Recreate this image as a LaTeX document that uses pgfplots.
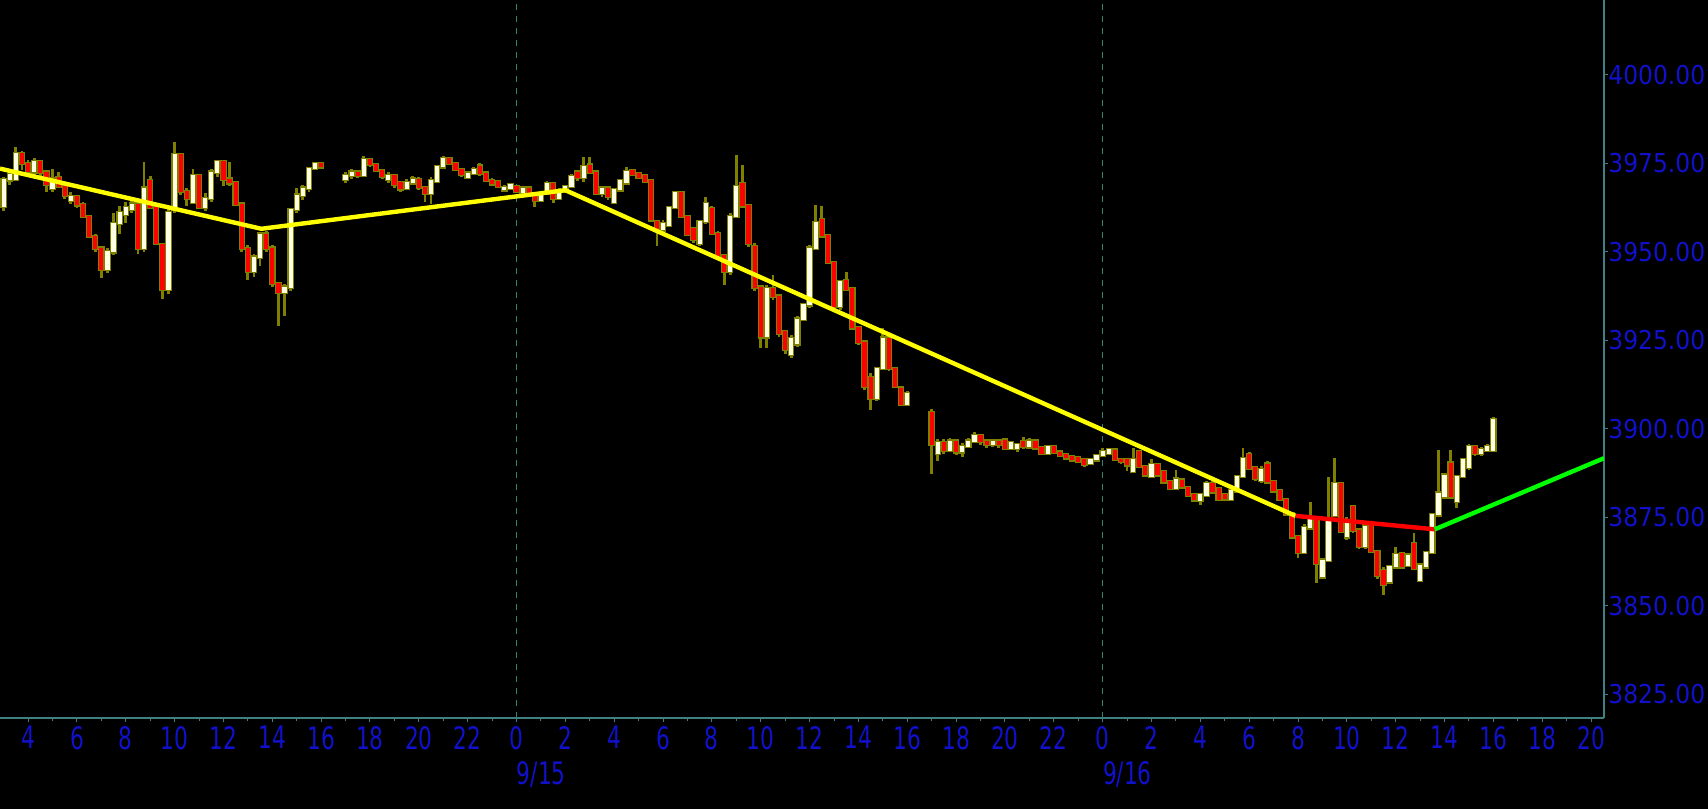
\documentclass[border=0pt]{standalone}
\usepackage{pgfplots}
\usepackage{pgfplotstable}
\pgfplotsset{compat=1.18}
\usepackage{fontspec}
\setmainfont{DejaVu Sans}
\newfontfamily\xfont{DejaVu Sans}[FakeStretch=0.7]
\newfontfamily\yfont{DejaVu Sans}[FakeStretch=0.9]
\definecolor{wick}{RGB}{128,128,0}
\definecolor{upbody}{RGB}{255,255,230}
\definecolor{downbody}{RGB}{255,0,0}
\definecolor{axcol}{RGB}{64,128,128}
\definecolor{dashcol}{RGB}{50,130,115}
\definecolor{lblue}{RGB}{16,16,205}
\definecolor{tyellow}{RGB}{255,255,0}
\definecolor{tred}{RGB}{255,0,0}
\definecolor{tgreen}{RGB}{0,255,0}

\pgfplotstableread{
t o h l c
-21.0 3962.8 3971 3961.5 3970.3
-20.75 3970.3 3973 3969 3971.7
-20.5 3970.5 3979.5 3970 3977.8
-20.25 3977.8 3978.5 3973 3975.0
-20.0 3975 3976 3972 3972.6
-19.75 3972.6 3976.5 3971.5 3975.5
-19.5 3975.5 3976 3971.5 3972.5
-19.25 3972.5 3973 3967 3969
-19.0 3968 3973.5 3967 3970.5
-18.75 3971 3972.5 3968 3968.5
-18.5 3968.5 3969 3965 3966
-18.25 3964.5 3967 3963.5 3965.5
-18.0 3965.5 3966 3962.5 3963.3
-17.75 3963.3 3964 3959.5 3960
-17.5 3960 3960.5 3954 3954.3
-17.25 3954.3 3955 3950 3951
-17.0 3951 3951.5 3942.5 3945
-16.75 3945 3951 3944 3950
-16.5 3950 3961 3949 3958
-16.25 3958 3963 3955 3961
-16.0 3960.5 3964 3958 3962.5
-15.75 3962 3964.5 3961 3963.5
-15.5 3963.5 3964 3949.5 3951
-15.25 3951 3975.5 3950 3968
-15.0 3970 3971.5 3962 3962.5
-14.75 3962.5 3963 3952 3952.5
-14.5 3952 3952.5 3936.8 3939.5
-14.25 3939.5 3962 3938 3961
-14.0 3962 3981 3961 3977.5
-13.75 3977.5 3978 3966 3967
-13.5 3967 3968 3963 3965
-13.25 3964 3973.5 3963.5 3971.5
-13.0 3971.5 3972 3962 3962.5
-12.75 3962.5 3966.5 3961.5 3965
-12.5 3965 3973.5 3964 3972.5
-12.25 3972.5 3976 3971 3975.5
-12.0 3975.5 3976 3968.5 3970.5
-11.75 3970.5 3975.5 3968.5 3969.5
-11.5 3969.5 3970 3963 3963.5
-11.25 3963.5 3964 3950 3951
-11.0 3951 3952 3942 3944.5
-10.75 3944.5 3949.5 3943 3948.5
-10.5 3948.5 3955.5 3946 3955
-10.25 3955 3956 3950 3951
-10.0 3951 3952 3940 3941
-9.75 3941 3941.5 3929 3938.5
-9.5 3938.5 3941 3932 3940
-9.25 3940 3962.5 3939 3962
-9.0 3962 3968 3961 3966
-8.75 3966 3969 3964.5 3968
-8.5 3968 3974 3967 3973.5
-8.25 3973.5 3975.5 3973 3975
-8.0 3975 3975.5 3973.5 3974
-7.0 3970.5 3972.5 3969.4 3971.5
-6.75 3971.5 3973.5 3970.5 3972.5
-6.5 3972.5 3973 3970.8 3971.5
-6.25 3971.5 3977 3971 3976
-6.0 3976 3976.5 3974 3974.6
-5.75 3974.6 3975 3972.5 3973
-5.5 3973 3973.5 3970.5 3971.3
-5.25 3970.5 3972.5 3969.5 3971.5
-5.0 3971.5 3972 3968 3969
-4.75 3969.5 3970 3967 3967.8
-4.5 3968 3970.5 3967.5 3969.5
-4.25 3969.5 3971.5 3969 3970.5
-4.0 3970.3 3971 3967.5 3968.2
-3.75 3968.2 3968.5 3964 3966.5
-3.5 3966.5 3971 3963.5 3970
-3.25 3970 3974.5 3969.5 3974
-3.0 3974 3977 3973.5 3976.4
-2.75 3976.4 3976.8 3974.5 3975
-2.5 3975 3975.5 3972.8 3973.2
-2.25 3973.2 3973.8 3971.2 3971.8
-2.0 3971 3972.8 3970.5 3972.2
-1.75 3972.2 3974 3971.8 3973.2
-1.5 3974.2 3975 3971.5 3972.2
-1.25 3972.2 3972.5 3969.8 3970.2
-1.0 3970.2 3970.8 3968.8 3969.2
-0.75 3969.8 3970.2 3968 3968.4
-0.5 3967.5 3968.8 3966.8 3968.2
-0.25 3968 3969.5 3967.5 3969
0.0 3968.5 3969 3966.5 3967
0.25 3966.8 3968.5 3966.3 3968
0.5 3968 3968.5 3966 3966.5
0.75 3966.5 3967 3962.8 3964.5
1.0 3964.6 3967 3964 3966.5
1.25 3966.5 3970 3966 3969.3
1.5 3969.3 3969.8 3963.7 3965
1.75 3965 3968 3964.5 3967.2
2.0 3967.2 3969 3966.5 3968.5
2.25 3968.4 3972 3968 3971.2
2.5 3972.5 3973 3970 3971
2.75 3971 3976.9 3969.8 3974
3.0 3974.5 3976.9 3972 3972.5
3.25 3972.5 3973 3966 3966.5
3.5 3966.5 3968.5 3965.5 3968
3.75 3968 3968.4 3964.6 3965.6
4.0 3964 3968 3963.5 3967.5
4.25 3967.5 3970.6 3967 3970
4.5 3969.5 3974 3969 3972.6
4.75 3973 3973.5 3971.3 3971.8
5.0 3972 3972.6 3970.5 3971
5.25 3971.5 3972 3969.5 3970
5.5 3970 3970.4 3958.5 3959
5.75 3958.5 3959 3951.5 3956.2
6.0 3956.2 3959 3955.5 3958
6.25 3957.5 3963 3957 3962.5
6.5 3962.5 3967.3 3962 3966.8
6.75 3966.8 3967 3959.5 3960
7.0 3960 3960.5 3954.5 3955
7.25 3956.5 3957 3952.5 3953.5
7.5 3952.5 3959 3951.5 3958.5
7.75 3958.5 3965.6 3958 3963.5
8.0 3962.3 3963 3954.8 3955.2
8.25 3955.2 3955.8 3948.3 3948.8
8.5 3949 3949.5 3940.6 3944.5
8.75 3944.5 3961 3943.5 3960
9.0 3960 3977.4 3959.5 3968.4
9.25 3969.3 3974.5 3962.5 3963
9.5 3963 3963.5 3951.5 3952.4
9.75 3951.5 3952.5 3939 3940
10.0 3940 3940.5 3922.7 3926
10.25 3926 3940.5 3922.7 3939.5
10.5 3939.5 3943.4 3936.5 3937.5
10.75 3937.5 3938 3926 3927
11.0 3927.5 3928 3921 3922.5
11.25 3921 3926.5 3920 3925.5
11.5 3924 3932 3923 3931
11.75 3931 3935.5 3930.5 3935
12.0 3935 3952 3934 3951
12.25 3951 3963.2 3950.5 3958.2
12.5 3959 3963 3954 3954.5
12.75 3954.5 3955 3946.5 3947
13.0 3947 3947.5 3934 3934.5
13.25 3934.5 3942 3933.5 3941.5
13.5 3941.8 3944.4 3938.8 3939.5
13.75 3939.5 3940 3928 3928.5
14.0 3928.5 3929 3923.8 3924.5
14.25 3924.5 3925 3911 3912
14.5 3914.5 3915.7 3905.2 3908.6
14.75 3908.6 3917.5 3907.8 3917
15.0 3917 3928.4 3916.5 3925.6
15.25 3925.6 3926 3916.2 3917
15.5 3917 3917.5 3911.5 3912
15.75 3911.5 3912 3906.3 3907
16.0 3907 3910.6 3906.3 3910
17.0 3904.5 3905.5 3887.2 3895.5
17.25 3893 3897 3891 3896
17.5 3896 3897 3893 3894
17.75 3894 3897.5 3893.5 3896.5
18.0 3896.5 3897 3892.5 3893.5
18.25 3893.5 3896 3892 3895
18.5 3895 3897.5 3894.5 3896.5
18.75 3896.5 3899 3896 3898
19.0 3898 3898.5 3895.5 3896.5
19.25 3896.5 3897 3894.5 3895.5
19.5 3895.5 3897.2 3895 3896.5
19.75 3896.5 3897 3894.5 3895.5
20.0 3896.8 3897.5 3894 3894.5
20.25 3894.5 3896.5 3894 3896
20.5 3894.5 3896 3893.5 3895.5
20.75 3896.4 3897.8 3894.3 3895
21.0 3894.9 3897.3 3894.3 3896.5
21.25 3896.5 3897 3894 3894.6
21.5 3894.6 3895 3892.5 3893
21.75 3893 3895.4 3892.6 3894.9
22.0 3894.9 3895.3 3892.8 3893.4
22.25 3893.4 3893.8 3892 3892.6
22.5 3892.8 3893.2 3891.3 3891.8
22.75 3892.2 3892.6 3890.8 3891.2
23.0 3891.8 3892.2 3890.4 3890.8
23.25 3891.2 3891.6 3889.3 3890
23.5 3890.2 3891.8 3889.8 3891.3
23.75 3891.2 3893 3890.8 3892.5
24.0 3892.5 3894.5 3892 3893.5
24.25 3893 3894.6 3892.6 3894
24.5 3894 3894.5 3890.8 3891.3
24.75 3891.3 3891.8 3890.2 3890.8
25.0 3891.2 3891.6 3888 3889.8
25.25 3888 3894.5 3887.6 3891.2
25.5 3893.5 3894 3888.8 3889.3
25.75 3889.3 3889.7 3886.6 3887
26.0 3886.5 3891.5 3886.2 3889.8
26.25 3889.8 3890.2 3886.5 3887
26.5 3887.9 3888.3 3884.6 3885
26.75 3885 3885.5 3882.8 3883.2
27.0 3883.2 3888.3 3882.8 3885.8
27.25 3885.5 3886 3883.2 3883.6
27.5 3883.4 3883.8 3880.9 3881.3
27.75 3881.3 3881.7 3879.5 3879.9
28.0 3879.9 3882 3878.5 3881.5
28.25 3881.3 3885.2 3880.8 3884.6
28.5 3884.6 3885.2 3881.8 3882.2
28.75 3883.2 3883.6 3879.6 3880
29.0 3881.5 3882 3879.5 3880.2
29.25 3880 3883 3879.5 3882.5
29.5 3882.5 3887 3882 3886.5
29.75 3886.5 3894.6 3886 3891.5
30.0 3892.6 3893.5 3888.3 3888.8
30.25 3889 3889.5 3885.3 3886
30.5 3885.5 3889.5 3884.8 3888.5
30.75 3890 3890.8 3884.5 3885
31.0 3885 3885.5 3882 3882.5
31.25 3882.5 3883 3879.5 3880
31.5 3880 3880.5 3875.5 3876
31.75 3876 3876.5 3869 3869.5
32.0 3869.5 3870 3863.5 3865
32.25 3865 3873 3864.5 3872
32.5 3872 3879.4 3871.5 3874.5
32.75 3874.2 3874.7 3856.3 3862
33.0 3858.2 3863.4 3857.8 3862.9
33.25 3862.9 3886.5 3862.5 3873.8
33.5 3875.5 3891.7 3875 3884.6
33.75 3884.6 3885 3870.5 3871
34.0 3869.5 3875 3868.5 3874
34.25 3878 3878.5 3870.5 3871.4
34.5 3871.4 3872 3866 3866.7
34.75 3866.7 3873.5 3866 3872.5
35.0 3872.8 3873.5 3864.8 3865.3
35.25 3865.3 3865.8 3857.5 3858.5
35.5 3860 3861 3853 3856
35.75 3856.8 3861.5 3856.3 3861
36.0 3861 3866.5 3860.5 3864.5
36.25 3864.8 3865.3 3860.5 3861
36.5 3861.5 3865 3861 3864.3
36.75 3867.6 3870.5 3860 3860.5
37.0 3857.3 3862 3856.8 3861.5
37.25 3861 3865.5 3860.5 3865
37.5 3865 3876.2 3864.5 3875.7
37.75 3875.7 3894 3875.2 3881.8
38.0 3880.8 3887.5 3880.3 3886.9
38.25 3890.3 3894 3880.3 3880.8
38.5 3879.4 3887 3877.5 3886.5
38.75 3886.5 3891.8 3886 3891.2
39.0 3889 3895.8 3888.5 3895
39.25 3895 3895.5 3892.4 3893
39.5 3893 3895 3892.2 3894.2
39.75 3894 3895.6 3893.5 3895
40.0 3894 3903.4 3893.5 3902.5
}\candles

\begin{document}
\begin{tikzpicture}
\fill[black] (0pt,-45.5pt) rectangle (854pt,359pt);
\begin{axis}[
  scale only axis, width=802pt, height=359pt,
  at={(0pt,0pt)}, anchor=south west,
  xmin=-21.15, xmax=44.53, ymin=3818.3, ymax=4021.13,
  axis x line*=bottom, axis y line*=right,
  axis line style={color=axcol, line width=0.6pt},
  every tick/.style={color=axcol, line width=0.5pt},
  tick align=outside,
  major tick length=2pt, minor tick length=1.5pt,
  xtick={-20,-18,...,44},
  xticklabels={4,6,8,10,12,14,16,18,20,22,0,2,4,6,8,10,12,14,16,18,20,22,0,2,4,6,8,10,12,14,16,18,20},
  minor x tick num=1,
  ytick={3825,3850,...,4000},
  extra x ticks={0,24},
  extra x tick labels={},
  extra x tick style={grid=major, major grid style={color=dashcol, line width=0.6pt, dash pattern=on 3pt off 3pt}},
  /pgf/number format/assume math mode=true,
  xticklabel style={font=\xfont\fontsize{15.5}{16}\selectfont, text=lblue, inner sep=0pt, anchor=north, yshift=-1.8pt},
  yticklabel style={font=\yfont\fontsize{13}{13}\selectfont, text=lblue, inner sep=0pt, anchor=west, xshift=0pt,
    /pgf/number format/.cd, fixed, fixed zerofill, precision=2, 1000 sep={}},
  clip=true,
]
% wicks
\addplot[draw=none, mark=none, forget plot,
  error bars/.cd, y dir=both, y explicit, error mark=none,
  error bar style={line width=1.4pt, color=wick}]
  table[x=t, y expr={(\thisrow{h}+\thisrow{l})/2}, y error expr={(\thisrow{h}-\thisrow{l})/2}] {\candles};
% body outlines
\addplot[draw=none, mark=none, forget plot,
  error bars/.cd, y dir=both, y explicit, error mark=none,
  error bar style={line width=3.2pt, color=wick}]
  table[x=t, y expr={(\thisrow{o}+\thisrow{c})/2}, y error expr={abs(\thisrow{c}-\thisrow{o})/2+0.5}] {\candles};
% up bodies
\addplot[draw=none, mark=none, forget plot,
  error bars/.cd, y dir=both, y explicit, error mark=none,
  error bar style={line width=2.1pt, color=upbody}]
  table[x=t, y expr={\thisrow{c}>=\thisrow{o} ? (\thisrow{o}+\thisrow{c})/2 : nan}, y error expr={abs(\thisrow{c}-\thisrow{o})/2+0.15}] {\candles};
% down bodies
\addplot[draw=none, mark=none, forget plot,
  error bars/.cd, y dir=both, y explicit, error mark=none,
  error bar style={line width=2.1pt, color=downbody}]
  table[x=t, y expr={\thisrow{c}<\thisrow{o} ? (\thisrow{o}+\thisrow{c})/2 : nan}, y error expr={abs(\thisrow{c}-\thisrow{o})/2+0.15}] {\candles};
% trend lines
\addplot[color=tyellow, line width=2.2pt, mark=none] coordinates {(-21.15,3973.5) (-10.45,3956.5) (2.0,3967.4) (31.9,3875.4)};
\addplot[color=tred, line width=2.2pt, mark=none] coordinates {(31.9,3875.4) (37.6,3871.6)};
\addplot[color=tgreen, line width=2.2pt, mark=none] coordinates {(37.6,3871.6) (44.53,3891.7)};
\coordinate (d15) at (axis cs:0,3818.3);
\coordinate (d16) at (axis cs:24,3818.3);
\end{axis}
\node[anchor=north west, inner sep=0pt, font=\xfont\fontsize{15.5}{16}\selectfont, text=lblue] at ([yshift=-21.5pt]d15) {9/15};
\node[anchor=north west, inner sep=0pt, font=\xfont\fontsize{15.5}{16}\selectfont, text=lblue] at ([yshift=-21.5pt]d16) {9/16};
\pgfresetboundingbox
\path[use as bounding box] (0pt,-45.5pt) rectangle (854pt,359pt);
\end{tikzpicture}
\end{document}
